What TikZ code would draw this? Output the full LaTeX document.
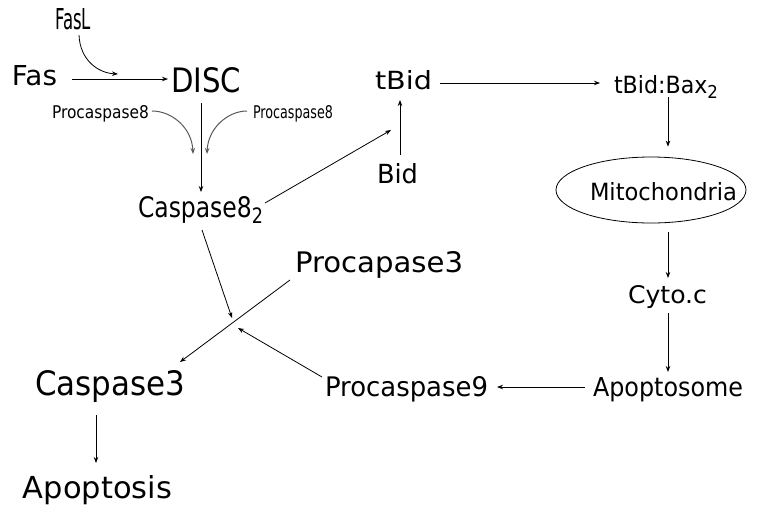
\documentclass[tikz,border=0pt]{standalone}
\usepackage{fontspec}
\setmainfont{DejaVu Sans}
\usepackage{graphicx}
\usetikzlibrary{arrows.meta,calc,shapes.geometric}
\newcommand{\RB}[3]{\resizebox{#1pt}{#2pt}{#3}}
\newcommand{\subtwo}{\raisebox{-0.22em}{\scalebox{0.75}{2}}}
\begin{document}
\begin{tikzpicture}[x=1pt,y=-1pt,
  lbl/.style={inner sep=0pt, outer sep=0pt, anchor=base west},
  arr/.style={-{Stealth[length=6pt,width=4.5pt]}, line width=0.8pt},
  garr/.style={arr, line width=1pt, draw=black!65},
]
\useasboundingbox (0,0) rectangle (763,507);
% labels
\node[lbl] (fasl)  at (55,29)  {\RB{36}{21}{FasL}};
\node[lbl] (fas)   at (12,85)  {\RB{45}{20}{Fas}};
\node[lbl] (disc)  at (171,92) {\RB{70}{25}{DISC}};
\node[lbl] (procl) at (52,118) {\RB{97}{13}{Procaspase8}};
\node[lbl] (procr) at (253,118){\RB{80}{13}{Procaspase8}};
\node[lbl] (casp8) at (138,217){\RB{125}{21}{Caspase8\subtwo}};
\node[lbl] (tbid)  at (375,89) {\RB{57}{19}{tBid}};
\node[lbl] (bid)   at (377,183){\RB{41}{20}{Bid}};
\node[lbl] (bax)   at (614,93) {\RB{104}{18}{tBid:Bax\subtwo}};
\node[draw, ellipse, line width=0.8pt, minimum width=190pt, minimum height=66pt, inner sep=0pt] (mitoell) at (651,190) {};
\node[lbl] (mito)  at (590,200){\RB{147}{18}{Mitochondria}};
\node[lbl] (cyto)  at (628,303){\RB{79}{18}{Cyto.c}};
\node[lbl] (apopt) at (593,396){\RB{150}{19}{Apoptosome}};
\node[lbl] (proc9) at (325,396){\RB{163}{20}{Procaspase9}};
\node[lbl] (proc3) at (295,272){\RB{168}{21}{Procapase3}};
\node[lbl] (casp3) at (35,395) {\RB{150}{25}{Caspase3}};
\node[lbl] (apops) at (23,498) {\RB{149}{23}{Apoptosis}};
% connectors
\draw[arr] ($(fas.base west)+(60,-6)$) -- ($(disc.base west)+(-3,-13)$);
\draw[arr] ($(fasl.base west)+(24,6)$) .. controls ($(fasl.base west)+(25,31)$) and ($(fasl.base west)+(43,44)$) .. ($(disc.base west)+(-53,-18)$);
\draw[garr] ($(procl.base west)+(100,-7)$) .. controls ($(procl.base west)+(120,-7)$) and ($(procl.base west)+(140,10)$) .. ($(casp8.base west)+(55,-63)$);
\draw[garr] ($(procr.base west)+(-6,-7)$) .. controls ($(procr.base west)+(-25,-7)$) and ($(procr.base west)+(-45,10)$) .. ($(casp8.base west)+(69,-63)$);
\draw[arr] ($(disc.base west)+(30,11)$) -- ($(casp8.base west)+(63,-25)$);
\draw[arr] ($(casp8.base west)+(127,-14)$) -- ($(tbid.base west)+(16,41)$);
\draw[arr] ($(bid.base west)+(23,-28)$) -- ($(tbid.base west)+(25,11)$);
\draw[arr] ($(tbid.base west)+(65,-6)$) -- ($(bax.base west)+(-14,-10)$);
\draw[arr] ($(bax.base west)+(54,4)$) -- ($(mitoell.north)+(17,-10)$);
\draw[arr] ($(mitoell.south)+(17,9)$) -- ($(cyto.base west)+(40,-25)$);
\draw[arr] ($(cyto.base west)+(40,10)$) -- ($(apopt.base west)+(75,-24)$);
\draw[arr] ($(apopt.base west)+(-8,-9)$) -- ($(proc9.base west)+(172,-9)$);
\draw[arr] ($(proc9.base west)+(-3,-19)$) -- ($(proc3.base west)+(-57,56)$);
\draw[arr] ($(casp8.base west)+(64,13)$) -- ($(proc3.base west)+(-63,46)$);
\draw[arr] ($(proc3.base west)+(-5,8)$) -- ($(casp3.base west)+(145,-33)$);
\draw[arr] ($(casp3.base west)+(61,20)$) -- ($(apops.base west)+(73,-35)$);
\end{tikzpicture}
\end{document}
